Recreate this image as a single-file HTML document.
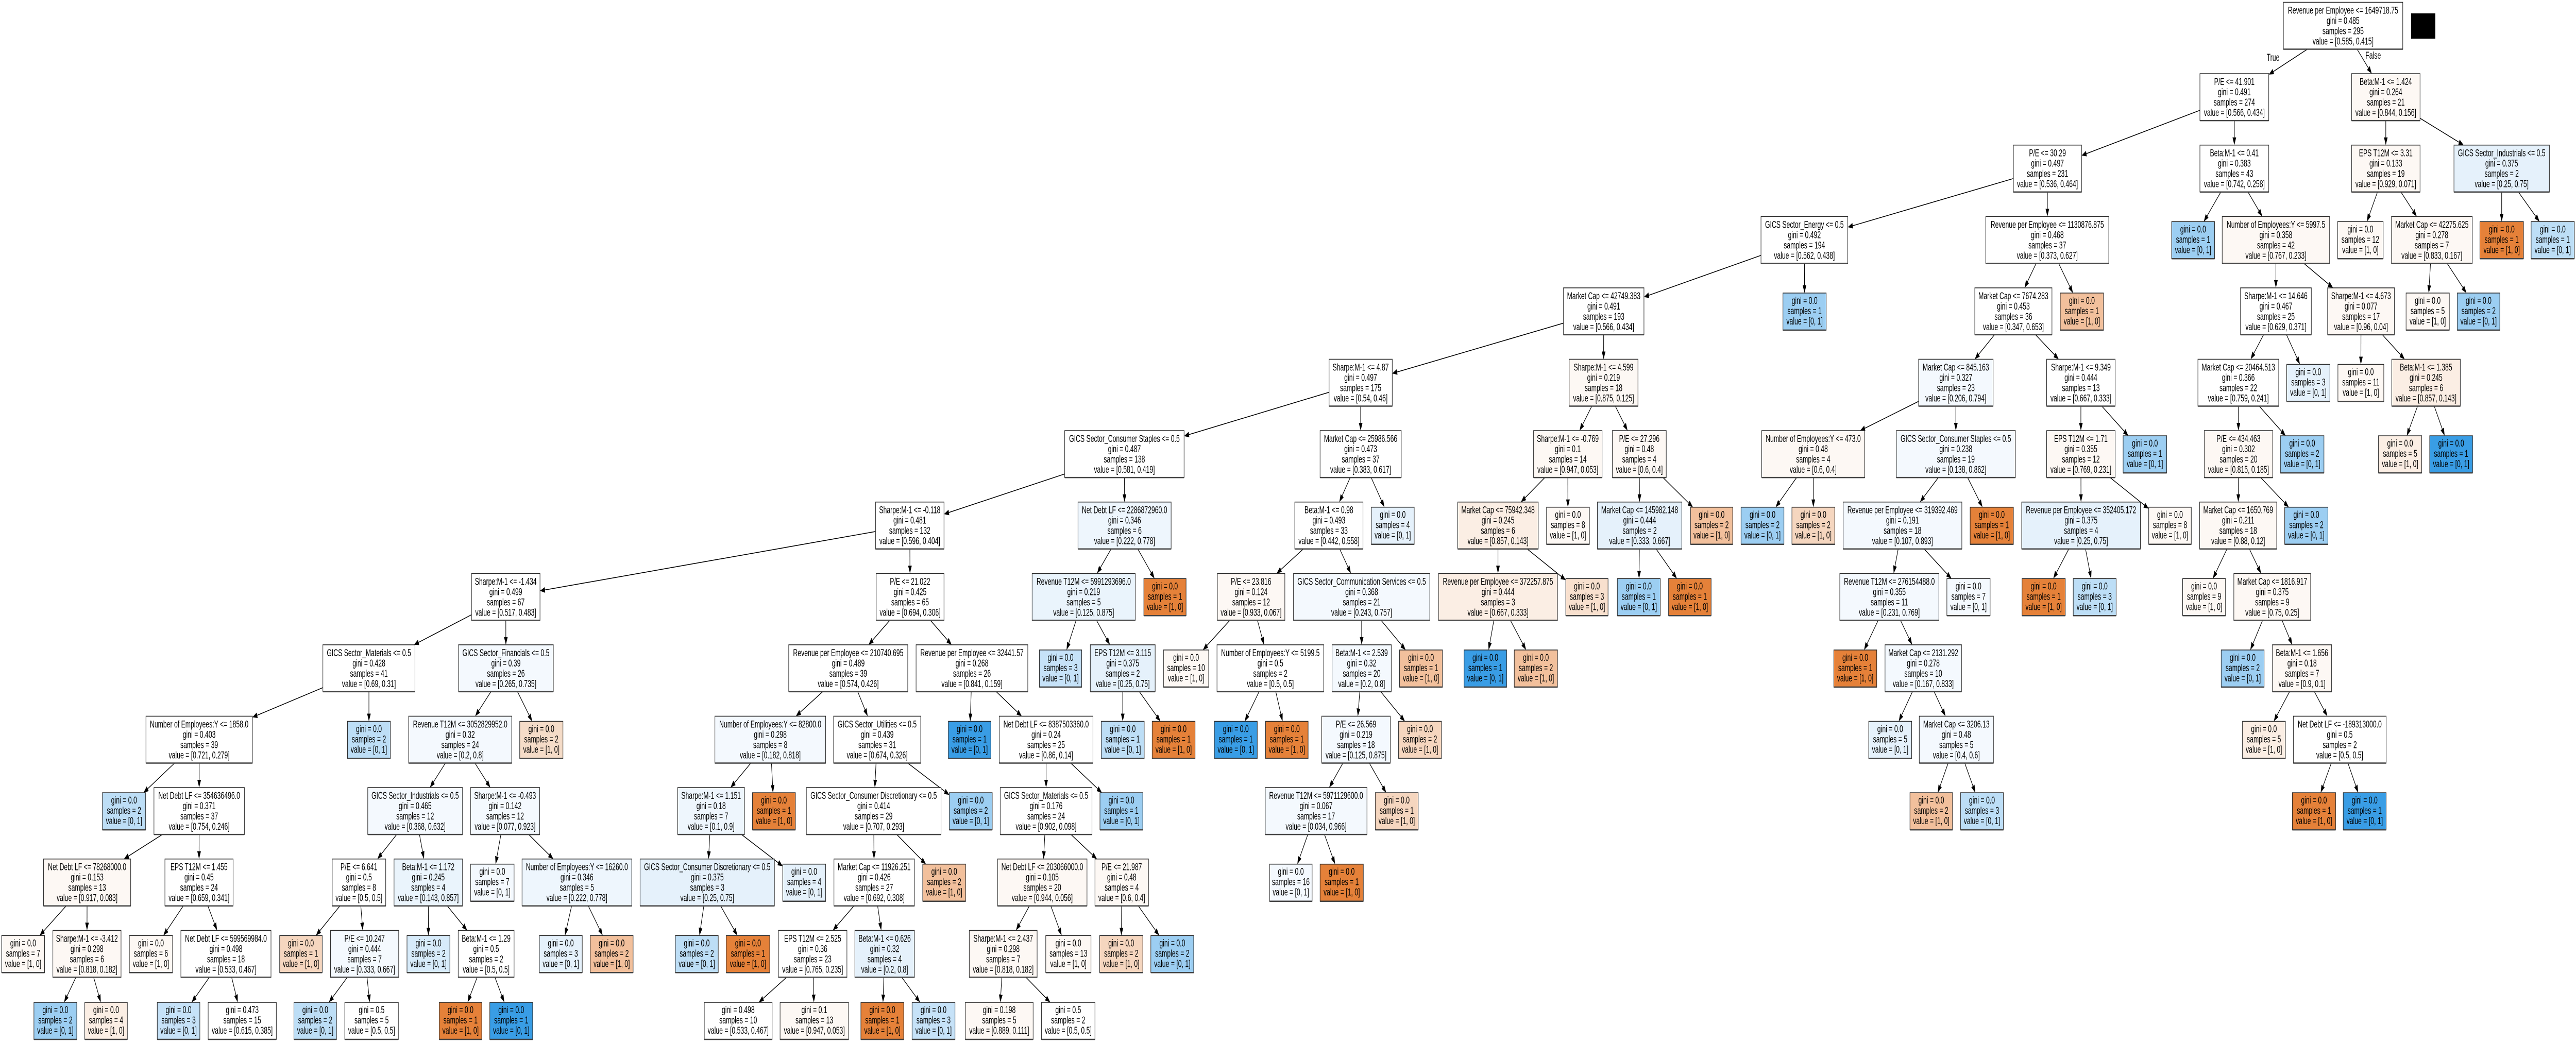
<!DOCTYPE html>
<html><head><meta charset="utf-8">
<style>
html,body{margin:0;padding:0;background:#fff;width:100%;height:100%;overflow:hidden;}
svg{display:block;position:fixed;left:0;top:0;width:100vw;height:100vh;}
text{font-family:"Liberation Sans",Arial,sans-serif;font-size:19px;fill:#000;}
</style></head>
<body>
<svg id="s" xmlns="http://www.w3.org/2000/svg" viewBox="0 0 7747 2023" preserveAspectRatio="none">
<rect x="0" y="0" width="7747" height="2023" fill="#fff"/>
<rect x="7251" y="26" width="73" height="49" fill="#000"/>
<text x="6836" y="118" text-anchor="middle">True</text>
<text x="7137" y="114" text-anchor="middle">False</text>
</svg>
<script>
var O="#e58139",O2="#f2c09c",O3="#f5d6bf",O4="#fbeee4",O5="#fdf8f4",B="#399de5",B2="#9ccef2",B3="#bddef6",B4="#e5f1fb",B5="#f4f9fe",W="#ffffff";
var N=[
[6867,7226,0,"Revenue per Employee <= 1649718.75","0.485",295,"[0.585, 0.415]",W,-1],
[6616,6823,1,"P/E <= 41.901","0.491",274,"[0.566, 0.434]",W,0],
[7072,7278,1,"Beta:M-1 <= 1.424","0.264",21,"[0.844, 0.156]",O5,0],
[6055,6260,2,"P/E <= 30.29","0.497",231,"[0.536, 0.464]",W,1],
[6616,6823,2,"Beta:M-1 <= 0.41","0.383",43,"[0.742, 0.258]",W,1],
[7072,7278,2,"EPS T12M <= 3.31","0.133",19,"[0.929, 0.071]",O5,2],
[7380,7667,2,"GICS Sector_Industrials <= 0.5","0.375",2,"[0.25, 0.75]",B4,2],
[5296,5557,3,"GICS Sector_Energy <= 0.5","0.492",194,"[0.562, 0.438]",W,3],
[5972,6342,3,"Revenue per Employee <= 1130876.875","0.468",37,"[0.373, 0.627]",W,3],
[6531,6660,3,"","0.0",1,"[0, 1]",B2,4],
[6683,7006,3,"Number of Employees:Y <= 5997.5","0.358",42,"[0.767, 0.233]",O5,4],
[7030,7167,3,"","0.0",12,"[1, 0]",O5,5],
[7192,7435,3,"Market Cap <= 42275.625","0.278",7,"[0.833, 0.167]",O5,5],
[7458,7589,3,"","0.0",1,"[1, 0]",O,6],
[7612,7742,3,"","0.0",1,"[0, 1]",B3,6],
[4702,4944,4,"Market Cap <= 42749.383","0.491",193,"[0.566, 0.434]",W,7],
[5362,5492,4,"","0.0",1,"[0, 1]",B2,7],
[5939,6171,4,"Market Cap <= 7674.283","0.453",36,"[0.347, 0.653]",W,8],
[6196,6326,4,"","0.0",1,"[1, 0]",O2,8],
[6738,6951,4,"Sharpe:M-1 <= 14.646","0.467",25,"[0.629, 0.371]",W,10],
[7000,7201,4,"Sharpe:M-1 <= 4.673","0.077",17,"[0.96, 0.04]",O5,10],
[7236,7366,4,"","0.0",5,"[1, 0]",O5,12],
[7390,7518,4,"","0.0",2,"[0, 1]",B2,12],
[3997,4187,5,"Sharpe:M-1 <= 4.87","0.497",175,"[0.54, 0.46]",W,15],
[4719,4926,5,"Sharpe:M-1 <= 4.599","0.219",18,"[0.875, 0.125]",O5,15],
[5770,5994,5,"Market Cap <= 845.163","0.327",23,"[0.206, 0.794]",B5,17],
[6155,6361,5,"Sharpe:M-1 <= 9.349","0.444",13,"[0.667, 0.333]",W,17],
[6610,6853,5,"Market Cap <= 20464.513","0.366",22,"[0.759, 0.241]",W,19],
[6877,7007,5,"","0.0",3,"[0, 1]",B4,19],
[7031,7169,5,"","0.0",11,"[1, 0]",O5,20],
[7193,7399,5,"Beta:M-1 <= 1.385","0.245",6,"[0.857, 0.143]",O4,20],
[3202,3561,6,"GICS Sector_Consumer Staples <= 0.5","0.487",138,"[0.581, 0.419]",W,23],
[3970,4214,6,"Market Cap <= 25986.566","0.473",37,"[0.383, 0.617]",W,23],
[4612,4818,6,"Sharpe:M-1 <= -0.769","0.1",14,"[0.947, 0.053]",O5,24],
[4849,5011,6,"P/E <= 27.296","0.48",4,"[0.6, 0.4]",O5,24],
[5298,5608,6,"Number of Employees:Y <= 473.0","0.48",4,"[0.6, 0.4]",O5,25],
[5703,6061,6,"GICS Sector_Consumer Staples <= 0.5","0.238",19,"[0.138, 0.862]",B5,25],
[6155,6361,6,"EPS T12M <= 1.71","0.355",12,"[0.769, 0.231]",O5,26],
[6385,6516,6,"","0.0",1,"[0, 1]",B2,26],
[6629,6835,6,"P/E <= 434.463","0.302",20,"[0.815, 0.185]",O5,27],
[6858,6989,6,"","0.0",2,"[0, 1]",B2,27],
[7153,7283,6,"","0.0",5,"[1, 0]",O4,30],
[7307,7436,6,"","0.0",1,"[0, 1]",B,30],
[2633,2839,7,"Sharpe:M-1 <= -0.118","0.481",132,"[0.596, 0.404]",W,31],
[3242,3522,7,"Net Debt LF <= 2286872960.0","0.346",6,"[0.222, 0.778]","#eef6fd",31],
[3894,4099,7,"Beta:M-1 <= 0.98","0.493",33,"[0.442, 0.558]",W,32],
[4124,4253,7,"","0.0",4,"[0, 1]",B4,32],
[4384,4626,7,"Market Cap <= 75942.348","0.245",6,"[0.857, 0.143]",O4,33],
[4651,4780,7,"","0.0",8,"[1, 0]",O5,33],
[4804,5058,7,"Market Cap <= 145982.148","0.444",2,"[0.333, 0.667]",B4,34],
[5084,5211,7,"","0.0",2,"[1, 0]",O2,34],
[5236,5365,7,"","0.0",2,"[0, 1]",B2,35],
[5389,5518,7,"","0.0",2,"[1, 0]",O3,35],
[5543,5900,7,"Revenue per Employee <= 319392.469","0.191",18,"[0.107, 0.893]",B5,36],
[5925,6055,7,"","0.0",1,"[1, 0]",O,36],
[6080,6437,7,"Revenue per Employee <= 352405.172","0.375",4,"[0.25, 0.75]",B4,37],
[6462,6590,7,"","0.0",8,"[1, 0]",O5,37],
[6615,6847,7,"Market Cap <= 1650.769","0.211",18,"[0.88, 0.12]",O5,39],
[6871,7001,7,"","0.0",2,"[0, 1]",B2,39],
[1418,1624,8,"Sharpe:M-1 <= -1.434","0.499",67,"[0.517, 0.483]",W,43],
[2635,2839,8,"P/E <= 21.022","0.425",65,"[0.694, 0.306]",W,43],
[3104,3414,8,"Revenue T12M <= 5991293696.0","0.219",5,"[0.125, 0.875]","#eaf4fc",44],
[3440,3567,8,"","0.0",1,"[1, 0]",O,44],
[3661,3864,8,"P/E <= 23.816","0.124",12,"[0.933, 0.067]",O5,45],
[3890,4300,8,"GICS Sector_Communication Services <= 0.5","0.368",21,"[0.243, 0.757]",B5,45],
[4326,4684,8,"Revenue per Employee <= 372257.875","0.444",3,"[0.667, 0.333]",O4,47],
[4709,4836,8,"","0.0",3,"[1, 0]","#f8e0ce",47],
[4864,4993,8,"","0.0",1,"[0, 1]",B2,49],
[5018,5146,8,"","0.0",1,"[1, 0]",O,49],
[5533,5831,8,"Revenue T12M <= 276154488.0","0.355",11,"[0.231, 0.769]",B5,53],
[5855,5985,8,"","0.0",7,"[0, 1]",B5,53],
[6081,6211,8,"","0.0",1,"[1, 0]",O,55],
[6235,6364,8,"","0.0",3,"[0, 1]",B3,55],
[6564,6693,8,"","0.0",9,"[1, 0]",O5,57],
[6718,6949,8,"Market Cap <= 1816.917","0.375",9,"[0.75, 0.25]",O5,57],
[971,1248,9,"GICS Sector_Materials <= 0.5","0.428",41,"[0.69, 0.31]",W,59],
[1379,1664,9,"GICS Sector_Financials <= 0.5","0.39",26,"[0.265, 0.735]",B5,59],
[2372,2730,9,"Revenue per Employee <= 210740.695","0.489",39,"[0.574, 0.426]",W,60],
[2755,3091,9,"Revenue per Employee <= 32441.57","0.268",26,"[0.841, 0.159]",W,60],
[3126,3253,9,"","0.0",3,"[0, 1]","#c6e2f8",61],
[3279,3474,9,"EPS T12M <= 3.115","0.375",2,"[0.25, 0.75]",B4,61],
[3499,3635,9,"","0.0",10,"[1, 0]",O5,63],
[3660,3981,9,"Number of Employees:Y <= 5199.5","0.5",2,"[0.5, 0.5]",W,63],
[4006,4184,9,"Beta:M-1 <= 2.539","0.32",20,"[0.2, 0.8]",B5,64],
[4209,4338,9,"","0.0",1,"[1, 0]",O2,64],
[4403,4531,9,"","0.0",1,"[0, 1]",B,65],
[4554,4684,9,"","0.0",2,"[1, 0]",O2,65],
[5515,5644,9,"","0.0",1,"[1, 0]",O,69],
[5669,5899,9,"Market Cap <= 2131.292","0.278",10,"[0.167, 0.833]",B5,69],
[6680,6809,9,"","0.0",2,"[0, 1]",B2,74],
[6834,7012,9,"Beta:M-1 <= 1.656","0.18",7,"[0.9, 0.1]",O5,74],
[439,759,10,"Number of Employees:Y <= 1858.0","0.403",39,"[0.721, 0.279]",W,75],
[1045,1174,10,"","0.0",2,"[0, 1]",B3,75],
[1229,1539,10,"Revenue T12M <= 3052829952.0","0.32",24,"[0.2, 0.8]",B5,76],
[1563,1693,10,"","0.0",2,"[1, 0]","#f5dcc8",76],
[2150,2483,10,"Number of Employees:Y <= 82800.0","0.298",8,"[0.182, 0.818]",B5,77],
[2507,2769,10,"GICS Sector_Utilities <= 0.5","0.439",31,"[0.674, 0.326]",W,77],
[2852,2980,10,"","0.0",1,"[0, 1]",B,78],
[3005,3287,10,"Net Debt LF <= 8387503360.0","0.24",25,"[0.86, 0.14]",W,78],
[3312,3441,10,"","0.0",1,"[0, 1]",B3,80],
[3465,3594,10,"","0.0",1,"[1, 0]",O,80],
[3652,3781,10,"","0.0",1,"[0, 1]",B,82],
[3806,3934,10,"","0.0",1,"[1, 0]",O,82],
[3975,4181,10,"P/E <= 26.569","0.219",18,"[0.125, 0.875]",B5,83],
[4206,4335,10,"","0.0",2,"[1, 0]",O3,83],
[5620,5749,10,"","0.0",5,"[0, 1]",B4,88],
[5772,5995,10,"Market Cap <= 3206.13","0.48",5,"[0.4, 0.6]",B5,88],
[6744,6873,10,"","0.0",5,"[1, 0]",O4,90],
[6897,7176,10,"Net Debt LF <= -189313000.0","0.5",2,"[0.5, 0.5]",W,90],
[308,438,11,"","0.0",2,"[0, 1]",B3,91],
[463,735,11,"Net Debt LF <= 354636496.0","0.371",37,"[0.754, 0.246]",W,91],
[1106,1391,11,"GICS Sector_Industrials <= 0.5","0.465",12,"[0.368, 0.632]",B5,93],
[1415,1623,11,"Sharpe:M-1 <= -0.493","0.142",12,"[0.077, 0.923]",B5,93],
[2038,2239,11,"Sharpe:M-1 <= 1.151","0.18",7,"[0.1, 0.9]","#eef6fd",95],
[2263,2392,11,"","0.0",1,"[1, 0]",O,95],
[2425,2830,11,"GICS Sector_Consumer Discretionary <= 0.5","0.414",29,"[0.707, 0.293]",W,96],
[2855,2984,11,"","0.0",2,"[0, 1]",B2,96],
[3008,3284,11,"GICS Sector_Materials <= 0.5","0.176",24,"[0.902, 0.098]",W,98],
[3308,3437,11,"","0.0",1,"[0, 1]",B2,98],
[3805,4111,11,"Revenue T12M <= 5971129600.0","0.067",17,"[0.034, 0.966]",B5,103],
[4136,4265,11,"","0.0",1,"[1, 0]",O3,103],
[5744,5872,11,"","0.0",2,"[1, 0]",O2,106],
[5896,6025,11,"","0.0",3,"[0, 1]",B3,106],
[6894,7024,11,"","0.0",1,"[1, 0]",O,108],
[7047,7176,11,"","0.0",1,"[0, 1]",B,108],
[131,393,12,"Net Debt LF <= 78268000.0","0.153",13,"[0.917, 0.083]",O5,110],
[496,701,12,"EPS T12M <= 1.455","0.45",24,"[0.659, 0.341]",W,110],
[999,1160,12,"P/E <= 6.641","0.5",8,"[0.5, 0.5]",W,111],
[1185,1391,12,"Beta:M-1 <= 1.172","0.245",4,"[0.143, 0.857]","#eaf4fc",111],
[1415,1546,12,"","0.0",7,"[0, 1]",B5,112],
[1570,1900,12,"Number of Employees:Y <= 16260.0","0.346",5,"[0.222, 0.778]","#eef6fd",112],
[1925,2329,12,"GICS Sector_Consumer Discretionary <= 0.5","0.375",3,"[0.25, 0.75]",B4,113],
[2354,2483,12,"","0.0",4,"[0, 1]",B4,113],
[2508,2750,12,"Market Cap <= 11926.251","0.426",27,"[0.692, 0.308]",W,115],
[2775,2904,12,"","0.0",2,"[1, 0]",O2,115],
[3000,3269,12,"Net Debt LF <= 203066000.0","0.105",20,"[0.944, 0.056]",O5,117],
[3293,3454,12,"P/E <= 21.987","0.48",4,"[0.6, 0.4]",O5,117],
[3818,3946,12,"","0.0",16,"[0, 1]",B5,119],
[3970,4100,12,"","0.0",1,"[1, 0]",O,119],
[5,134,13,"","0.0",7,"[1, 0]",O5,125],
[159,364,13,"Sharpe:M-1 <= -3.412","0.298",6,"[0.818, 0.182]",O5,125],
[389,519,13,"","0.0",6,"[1, 0]",O5,126],
[544,815,13,"Net Debt LF <= 599569984.0","0.498",18,"[0.533, 0.467]",W,126],
[841,969,13,"","0.0",1,"[1, 0]",O3,127],
[994,1199,13,"P/E <= 10.247","0.444",7,"[0.333, 0.667]",B5,127],
[1224,1353,13,"","0.0",2,"[0, 1]","#d7ebfa",128],
[1378,1546,13,"Beta:M-1 <= 1.29","0.5",2,"[0.5, 0.5]",W,128],
[1622,1751,13,"","0.0",3,"[0, 1]",B4,130],
[1775,1904,13,"","0.0",2,"[1, 0]",O2,130],
[2031,2160,13,"","0.0",2,"[0, 1]",B3,131],
[2184,2315,13,"","0.0",1,"[1, 0]",O,131],
[2341,2547,13,"EPS T12M <= 2.525","0.36",23,"[0.765, 0.235]",W,133],
[2571,2750,13,"Beta:M-1 <= 0.626","0.32",4,"[0.2, 0.8]",B4,133],
[2915,3119,13,"Sharpe:M-1 <= 2.437","0.298",7,"[0.818, 0.182]",O5,135],
[3145,3281,13,"","0.0",13,"[1, 0]",O5,135],
[3307,3437,13,"","0.0",2,"[1, 0]",O3,136],
[3461,3590,13,"","0.0",2,"[0, 1]",B2,136],
[102,231,14,"","0.0",2,"[0, 1]",B2,140],
[255,383,14,"","0.0",4,"[1, 0]",O4,140],
[473,601,14,"","0.0",3,"[0, 1]","#c6e2f8",142],
[626,831,14,"","0.473",15,"[0.615, 0.385]",W,142],
[884,1012,14,"","0.0",2,"[0, 1]",B3,144],
[1037,1198,14,"","0.5",5,"[0.5, 0.5]",W,144],
[1321,1449,14,"","0.0",1,"[1, 0]",O,146],
[1473,1602,14,"","0.0",1,"[0, 1]",B,146],
[2118,2322,14,"","0.498",10,"[0.533, 0.467]",W,151],
[2346,2552,14,"","0.1",13,"[0.947, 0.053]",O5,151],
[2589,2718,14,"","0.0",1,"[1, 0]",O,152],
[2743,2872,14,"","0.0",3,"[0, 1]","#c6e2f8",152],
[2903,3107,14,"","0.198",5,"[0.889, 0.111]",O5,153],
[3132,3293,14,"","0.5",2,"[0.5, 0.5]",W,153]
];
var S=document.getElementById("s"),NS="http://www.w3.org/2000/svg";
function el(t,a,txt){var e=document.createElementNS(NS,t);for(var k in a)e.setAttribute(k,a[k]);if(txt!=null)e.textContent=txt;S.appendChild(e);return e;}
var boxes=N.map(function(n){var top=4.5+138.6*n[2];var leaf=n[3]==="";var y,h;
 if(leaf){y=(n[2]==14)?1946:top+10;h=72;}else{y=top;h=91;}
 return {x1:n[0],x2:n[1],y1:y,y2:y+h,cx:(n[0]+n[1])/2,cy:y+h/2,leaf:leaf};});
function clip(b,dx,dy){var hw=(b.x2-b.x1)/2,hh=(b.y2-b.y1)/2;var t=Infinity;
 if(dx!==0)t=Math.min(t,hw/Math.abs(dx));if(dy!==0)t=Math.min(t,hh/Math.abs(dy));return [b.cx+dx*t,b.cy+dy*t];}
N.forEach(function(n,i){if(n[8]<0)return;var p=boxes[n[8]],c=boxes[i];
 var dx=c.cx-p.cx,dy=c.cy-p.cy;var s=clip(p,dx,dy),e=clip(c,-dx,-dy);
 var L=Math.hypot(e[0]-s[0],e[1]-s[1]),ux=(e[0]-s[0])/L,uy=(e[1]-s[1])/L;
 var al=15,aw=5.5;var bx=e[0]-ux*al,by=e[1]-uy*al;
 el("line",{x1:s[0],y1:s[1],x2:bx,y2:by,stroke:"#000","stroke-width":1.6});
 el("polygon",{points:e[0]+","+e[1]+" "+(bx-uy*aw)+","+(by+ux*aw)+" "+(bx+uy*aw)+","+(by-ux*aw),fill:"#000"});});
N.forEach(function(n,i){var b=boxes[i];
 el("rect",{x:b.x1,y:b.y1,width:b.x2-b.x1,height:b.y2-b.y1,fill:n[7],stroke:"#2a2a2a","stroke-width":1.6});
 el("line",{x1:b.x1,y1:b.y2,x2:b.x2,y2:b.y2,stroke:"#444","stroke-width":2.5});
 var lines=b.leaf?["gini = "+n[4],"samples = "+n[5],"value = "+n[6]]:[n[3],"gini = "+n[4],"samples = "+n[5],"value = "+n[6]];
 var y0=b.y1+(b.leaf?21:22);
 lines.forEach(function(t,k){el("text",{x:b.cx,y:y0+20*k,"text-anchor":"middle"},t);});});
</script>
</body></html>
